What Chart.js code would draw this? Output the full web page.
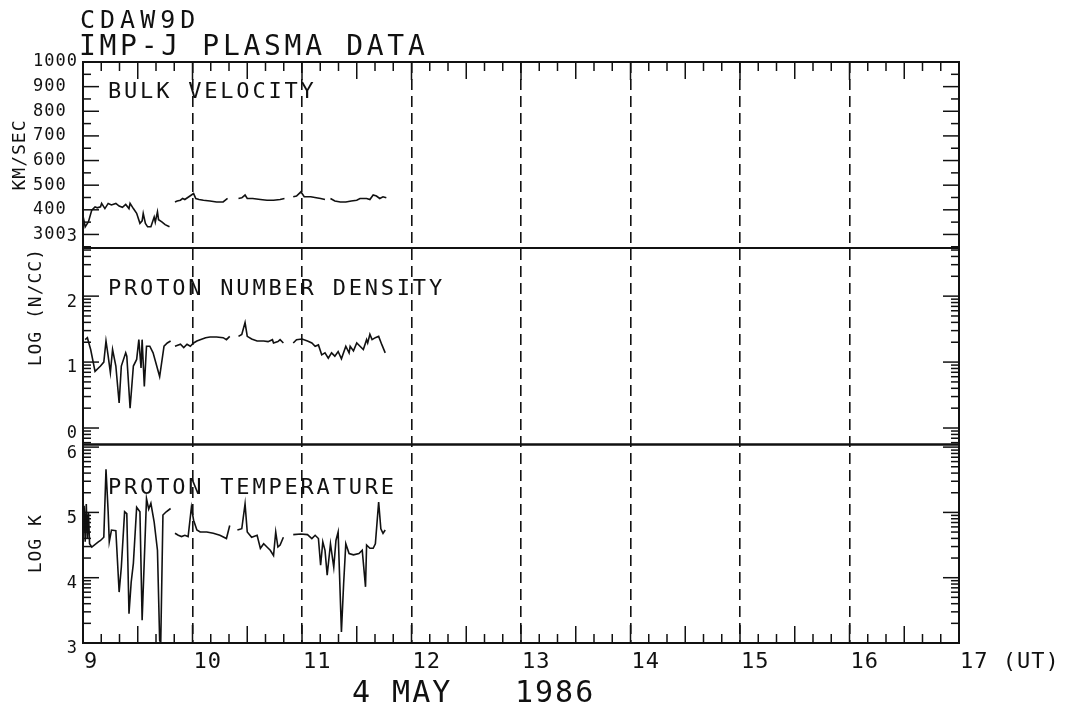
<!DOCTYPE html>
<html>
<head>
<meta charset="utf-8">
<title>CDAW9D IMP-J plasma data</title>
<script src="https://cdn.jsdelivr.net/npm/chart.js@4.4.1/dist/chart.umd.min.js"></script>
<style>
  html, body { margin: 0; padding: 0; background: #fff; }
  #wrap { position: relative; width: 1082px; height: 707px; }
  canvas { position: absolute; left: 0; top: 0; }
  .txt { position: absolute; font-family: 'DejaVu Sans Mono', monospace; color: #111; line-height: 1; white-space: pre; }
</style>
</head>
<body>
<div id="wrap">
  <canvas id="grafico" width="1082" height="707"></canvas>
  <div class="txt" style="left:80px; top:7px; font-size:25px; letter-spacing:5px;">CDAW9D</div>
  <div class="txt" style="left:79px; top:32px; font-size:28px; letter-spacing:3.7px;">IMP-J PLASMA DATA</div>
  <div class="txt" style="left:108px; top:80px; font-size:22px; letter-spacing:2.8px;">BULK VELOCITY</div>
  <div class="txt" style="left:108px; top:277px; font-size:22px; letter-spacing:2.8px;">PROTON NUMBER DENSITY</div>
  <div class="txt" style="left:108px; top:476px; font-size:22px; letter-spacing:2.8px;">PROTON TEMPERATURE</div>
  <div class="txt" style="left:352px; top:677px; font-size:30px; letter-spacing:2px;">4 MAY</div>
  <div class="txt" style="left:515px; top:677px; font-size:30px; letter-spacing:2px;">1986</div>
</div>
<script>
const hourTicks = [9, 10, 11, 12, 13, 14, 15, 16, 17];
const velTicks = [300, 400, 500, 600, 700, 800, 900, 1000];
const denTicks = [0, 1, 2, 3];
const tmpTicks = [3, 4, 5, 6];

const velHours = [9.00, 9.02, 9.05, 9.08, 9.11, 9.13, 9.16, 9.17, 9.20, 9.23, 9.26, 9.30, 9.33, 9.36, 9.39, 9.42,
  9.43, 9.46, 9.49, 9.52, 9.54, 9.55, 9.57, 9.59, 9.62, 9.65, 9.66, 9.68, 9.69, 9.72, 9.75, 9.79,
  9.81,
  9.84, 9.86, 9.89, 9.91, 9.93, 10.01, 10.03, 10.06, 10.10, 10.16, 10.22, 10.28, 10.32,
  10.37,
  10.42, 10.45, 10.48, 10.50, 10.55, 10.62, 10.68, 10.74, 10.80, 10.84,
  10.88,
  10.92, 10.95, 10.99, 11.02, 11.08, 11.13, 11.17, 11.21,
  11.23,
  11.26, 11.30, 11.35, 11.40, 11.45, 11.50, 11.53, 11.59, 11.62, 11.65, 11.68, 11.71, 11.74, 11.77];
const velKms = [375, 331, 352, 399, 412, 408, 412, 426, 405, 426, 420, 426, 415, 410, 422, 405,
  426, 405, 386, 345, 355, 385, 345, 331, 331, 371, 350, 392, 360, 351, 340, 331,
  null,
  432, 436, 439, 446, 442, 466, 446, 442, 439, 436, 432, 432, 446,
  null,
  446, 449, 460, 446, 446, 442, 439, 439, 442, 446,
  null,
  453, 456, 473, 453, 453, 449, 446, 442,
  null,
  446, 436, 432, 432, 436, 439, 446, 446, 442, 460, 456, 446, 453, 449];

const denHours = [9.02, 9.04, 9.07, 9.11, 9.16, 9.19, 9.21, 9.23, 9.25, 9.27, 9.30, 9.33, 9.35, 9.39, 9.40,
  9.43, 9.46, 9.49, 9.51, 9.53, 9.54, 9.56, 9.58, 9.61, 9.64, 9.70, 9.74, 9.77, 9.80,
  9.82,
  9.84, 9.89, 9.92, 9.95, 9.98, 10.01, 10.04, 10.07, 10.12, 10.16, 10.22, 10.28, 10.31, 10.34,
  10.38,
  10.42, 10.45, 10.48, 10.50, 10.54, 10.59, 10.65, 10.69, 10.73, 10.74, 10.78, 10.80, 10.83,
  10.88,
  10.92, 10.95, 11.00, 11.05, 11.09, 11.12, 11.15, 11.18, 11.21, 11.24, 11.27, 11.30, 11.33, 11.36,
  11.40, 11.43, 11.44, 11.47, 11.50, 11.53, 11.56, 11.59, 11.60, 11.62, 11.64, 11.67, 11.70, 11.73, 11.76];
const denLog = [1.34, 1.37, 1.19, 0.86, 0.94, 1.00, 1.32, 1.09, 0.84, 1.19, 0.94, 0.38, 0.94, 1.14, 1.09,
  0.30, 0.94, 1.04, 1.34, 0.91, 1.34, 0.63, 1.24, 1.24, 1.14, 0.78, 1.24, 1.29, 1.32,
  null,
  1.24, 1.27, 1.22, 1.27, 1.24, 1.29, 1.32, 1.34, 1.37, 1.38, 1.38, 1.37, 1.34, 1.39,
  null,
  1.39, 1.42, 1.60, 1.39, 1.35, 1.32, 1.32, 1.31, 1.34, 1.29, 1.31, 1.34, 1.29,
  null,
  1.29, 1.34, 1.35, 1.32, 1.29, 1.24, 1.26, 1.11, 1.14, 1.06, 1.14, 1.09, 1.16, 1.05,
  1.24, 1.14, 1.24, 1.17, 1.29, 1.24, 1.19, 1.34, 1.29, 1.42, 1.34, 1.37, 1.39, 1.26, 1.14];

const tmpHours = [9.00, 9.01, 9.02, 9.03, 9.04, 9.05, 9.06, 9.08, 9.14, 9.16, 9.19, 9.21, 9.23, 9.24, 9.26,
  9.30, 9.33, 9.35, 9.38, 9.40, 9.42, 9.44, 9.46, 9.49, 9.52, 9.54, 9.58, 9.60, 9.62, 9.65,
  9.68, 9.70, 9.71, 9.73, 9.76, 9.80,
  9.82,
  9.84, 9.87, 9.90, 9.93, 9.96, 9.99, 10.01, 10.04, 10.07, 10.13, 10.19, 10.25, 10.31, 10.34,
  10.38,
  10.41, 10.45, 10.48, 10.50, 10.54, 10.59, 10.62, 10.65, 10.68, 10.71, 10.74, 10.76, 10.78, 10.80, 10.83,
  10.88,
  10.92, 10.99, 11.05, 11.09, 11.12, 11.15, 11.17, 11.19, 11.21, 11.23, 11.26, 11.29, 11.31, 11.33, 11.36,
  11.38, 11.40, 11.43, 11.47, 11.52, 11.55, 11.58, 11.59, 11.62, 11.65, 11.67, 11.70, 11.72, 11.74, 11.76];
const tmpLog = [4.60, 5.10, 4.55, 5.13, 4.60, 5.00, 4.52, 4.47, 4.55, 4.57, 4.62, 5.66, 5.00, 4.55, 4.73,
  4.72, 3.78, 4.16, 5.01, 4.98, 3.45, 3.93, 4.22, 5.08, 5.01, 3.35, 5.21, 5.05, 5.14, 4.85,
  4.42, 3.04, 3.00, 4.96, 5.01, 5.06,
  null,
  4.68, 4.65, 4.63, 4.65, 4.63, 5.08, 4.88, 4.73, 4.70, 4.70, 4.68, 4.65, 4.60, 4.80,
  null,
  4.73, 4.75, 5.13, 4.70, 4.62, 4.65, 4.45, 4.52, 4.47, 4.42, 4.34, 4.70, 4.47, 4.50, 4.62,
  null,
  4.66, 4.67, 4.66, 4.60, 4.65, 4.60, 4.19, 4.55, 4.42, 4.04, 4.52, 4.16, 4.57, 4.70, 3.17,
  3.90, 4.52, 4.37, 4.35, 4.37, 4.42, 3.86, 4.50, 4.45, 4.45, 4.52, 5.16, 4.75, 4.68, 4.73];

const FUENTE = "'DejaVu Sans Mono', monospace";
const TINTA = '#111';

function serie(horas, valores) {
  return horas.map((h, i) => ({ x: h, y: valores[i] }));
}

// los textos del plotter van algo espaciados
const espaciado = {
  id: 'espaciado',
  beforeUpdate(c) { c.ctx.letterSpacing = '1px'; },
  beforeDraw(c) { c.ctx.letterSpacing = '1px'; }
};

// marco de cada panel y marcas hacia dentro
const marco = {
  id: 'marco',
  afterDraw(c) {
    const { ctx, chartArea: a, scales } = c;
    const linea = (x1, y1, x2, y2) => { ctx.beginPath(); ctx.moveTo(x1, y1); ctx.lineTo(x2, y2); ctx.stroke(); };
    ctx.save();
    ctx.strokeStyle = TINTA;
    ctx.lineWidth = 2;
    for (const id of ['yVel', 'yDen', 'yTmp']) {
      const s = scales[id];
      ctx.strokeRect(a.left, s.top, a.right - a.left, s.bottom - s.top);
    }
    ctx.lineWidth = 1.5;
    const marcaY = (s, v, largo) => {
      if (v <= s.min || v >= s.max) return;
      const y = s.getPixelForValue(v);
      linea(a.left, y, a.left + largo, y);
      linea(a.right, y, a.right - largo, y);
    };
    for (let v = 250; v <= 1000; v += 50) marcaY(scales.yVel, v, v % 100 === 0 ? 16 : 8);
    for (const id of ['yDen', 'yTmp']) {
      const s = scales[id];
      for (let d = Math.floor(s.min); d <= Math.ceil(s.max); d++) {
        marcaY(s, d, 16);
        for (let k = 2; k <= 9; k++) marcaY(s, d + Math.log10(k), 8);
      }
    }
    // cada 10 minutos arriba y abajo
    const x = scales.x;
    for (let i = 1; i < 48; i++) {
      const px = x.getPixelForValue(9 + i / 6);
      const largo = i % 6 === 0 ? 18 : (i % 3 === 0 ? 17 : 9);
      linea(px, a.top, px, a.top + largo);
      linea(px, a.bottom, px, a.bottom - largo);
    }
    ctx.restore();
  }
};

function ejeY(extra) {
  return Object.assign({
    type: 'linear',
    position: 'left',
    stack: 'paneles',
    grid: { display: false, drawTicks: false },
    border: { display: false },
    afterFit: s => { s.width = 83; }
  }, extra);
}

function ticksY(extra) {
  return Object.assign({
    font: { family: FUENTE, size: 17 },
    color: TINTA,
    padding: 5,
    autoSkip: false
  }, extra);
}

const ctx = document.getElementById('grafico').getContext('2d');
const chart = new Chart(ctx, {
  type: 'line',
  data: {
    datasets: [
      { data: serie(velHours, velKms), yAxisID: 'yVel', borderColor: TINTA },
      { data: serie(denHours, denLog), yAxisID: 'yDen', borderColor: TINTA },
      { data: serie(tmpHours, tmpLog), yAxisID: 'yTmp', borderColor: TINTA }
    ]
  },
  options: {
    responsive: false,
    animation: false,
    devicePixelRatio: 1,
    layout: { padding: { top: 62, right: 123, bottom: 0, left: 0 } },
    datasets: {
      line: { borderWidth: 1.6, pointRadius: 0, spanGaps: false, tension: 0 }
    },
    plugins: { colors: { enabled: false }, legend: { display: false }, tooltip: { enabled: false } },
    scales: {
      x: {
        type: 'linear',
        position: 'bottom',
        min: 9,
        max: 17,
        afterBuildTicks: s => { s.ticks = hourTicks.map(v => ({ value: v })); },
        afterFit: s => { s.height = 64; },
        grid: {
          color: c => (c.tick && c.tick.value > 9 && c.tick.value < 17) ? TINTA : 'rgba(0,0,0,0)',
          lineWidth: 1.6,
          drawTicks: false
        },
        border: { display: false, dash: [11, 6] },
        ticks: {
          font: { family: FUENTE, size: 22 },
          color: TINTA,
          align: 'start',
          labelOffset: 1,
          padding: 6,
          maxRotation: 0,
          autoSkip: false,
          callback: v => v === 17 ? '17 (UT)' : String(v)
        }
      },
      yVel: ejeY({
        weight: 3,
        stackWeight: 186,
        min: 245,
        max: 1000,
        afterBuildTicks: s => { s.ticks = velTicks.map(v => ({ value: v })); },
        ticks: ticksY({ callback: v => String(v).padEnd(4, ' ') }),
        title: { display: true, text: 'KM/SEC', font: { family: FUENTE, size: 18 }, color: TINTA, padding: { top: 10, bottom: 0 } }
      }),
      yDen: ejeY({
        weight: 2,
        stackWeight: 196.5,
        min: -0.25,
        max: 2.73,
        afterBuildTicks: s => { s.ticks = denTicks.map(v => ({ value: v })); },
        ticks: ticksY({ labelOffset: 6 }),
        title: { display: true, text: 'LOG (N/CC)', align: 'end', font: { family: FUENTE, size: 18 }, color: TINTA, padding: { top: 26, bottom: 0 } }
      }),
      yTmp: ejeY({
        weight: 1,
        stackWeight: 198.5,
        min: 3,
        max: 6.04,
        afterBuildTicks: s => { s.ticks = tmpTicks.map(v => ({ value: v })); },
        ticks: ticksY({ labelOffset: 6 }),
        title: { display: true, text: 'LOG K', font: { family: FUENTE, size: 18 }, color: TINTA, padding: { top: 26, bottom: 0 } }
      })
    }
  },
  plugins: [espaciado, marco]
});
</script>
</body>
</html>
